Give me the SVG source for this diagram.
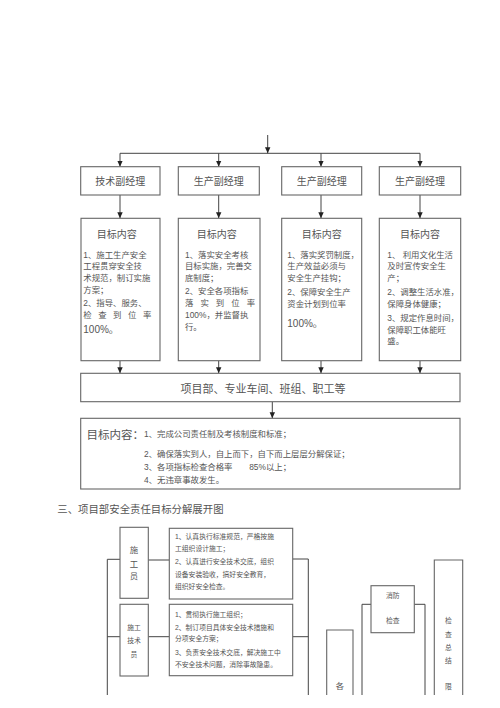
<svg xmlns="http://www.w3.org/2000/svg" width="500" height="708" viewBox="0 0 500 708">
<defs>
<marker id="ah" markerWidth="6" markerHeight="6" refX="6" refY="3" orient="auto" markerUnits="userSpaceOnUse" viewBox="0 0 6 6">
<path d="M0,0.3 L6,3 L0,5.7 Z" fill="#222"/>
</marker>
<style>
.box{fill:#fff;stroke:#666;stroke-width:1.1}
.ln{fill:none;stroke:#444;stroke-width:1}
.t{font-family:"Liberation Sans","Noto Sans CJK SC",sans-serif;fill:#555}
.s{font-size:8.4px}
.xs{font-size:6.8px}
.c{text-anchor:middle}
</style>
</defs>
<rect width="500" height="708" fill="#fff"/>

<g id="connectors">
<line class="ln" x1="267.7" y1="135" x2="267.7" y2="153.3" marker-end="url(#ah)"/>
<line class="ln" x1="120" y1="153.3" x2="420" y2="153.3"/>
<line class="ln" x1="120" y1="153.3" x2="120" y2="166.7" marker-end="url(#ah)"/>
<line class="ln" x1="218.7" y1="153.3" x2="218.7" y2="166.7" marker-end="url(#ah)"/>
<line class="ln" x1="321" y1="153.3" x2="321" y2="166.7" marker-end="url(#ah)"/>
<line class="ln" x1="420" y1="153.3" x2="420" y2="166.7" marker-end="url(#ah)"/>
<line class="ln" x1="120" y1="195" x2="120" y2="218.3" marker-end="url(#ah)"/>
<line class="ln" x1="218.7" y1="195" x2="218.7" y2="218.3" marker-end="url(#ah)"/>
<line class="ln" x1="321" y1="195" x2="321" y2="218.3" marker-end="url(#ah)"/>
<line class="ln" x1="420" y1="195" x2="420" y2="218.3" marker-end="url(#ah)"/>
<line class="ln" x1="120" y1="360.7" x2="120" y2="373.3" marker-end="url(#ah)"/>
<line class="ln" x1="218.7" y1="360.7" x2="218.7" y2="373.3" marker-end="url(#ah)"/>
<line class="ln" x1="321" y1="360.7" x2="321" y2="373.3" marker-end="url(#ah)"/>
<line class="ln" x1="420" y1="360.7" x2="420" y2="373.3" marker-end="url(#ah)"/>
<line class="ln" x1="272.3" y1="401.7" x2="272.3" y2="418.3" marker-end="url(#ah)"/>
<!-- lower section -->
<polyline class="ln" points="120,559.3 107.3,559.3 107.3,695"/>
<line class="ln" x1="107.3" y1="636.7" x2="120" y2="636.7"/>
<line class="ln" x1="148.3" y1="560" x2="169.3" y2="560"/>
<line class="ln" x1="148.3" y1="636.7" x2="169.3" y2="636.7"/>
<polyline class="ln" points="292.7,559 308.3,559 308.3,695"/>
<line class="ln" x1="292.7" y1="636.7" x2="308.3" y2="636.7"/>
<polyline class="ln" points="371,604.3 362,604.3 362,695"/>
<polyline class="ln" points="414.3,604.3 425,604.3 425,695"/>
</g>

<g id="n_tech">
<rect class="box" x="80.7" y="166.7" width="79.3" height="28.3"/>
<text class="t c" x="120.3" y="185" font-size="10">技术副经理</text>
</g>
<g id="n_prod1">
<rect class="box" x="178.3" y="166.7" width="81" height="28.3"/>
<text class="t c" x="218.8" y="185" font-size="10">生产副经理</text>
</g>
<g id="n_prod2">
<rect class="box" x="281.7" y="166.7" width="80" height="28.3"/>
<text class="t c" x="321.7" y="185" font-size="10">生产副经理</text>
</g>
<g id="n_prod3">
<rect class="box" x="379.3" y="166.7" width="81.4" height="28.3"/>
<text class="t c" x="420" y="185" font-size="10">生产副经理</text>
</g>

<g id="n_goal1">
<rect class="box" x="81" y="218.3" width="79" height="142.4"/>
<text class="t c" x="116.7" y="238" font-size="10">目标内容</text>
<text class="t s" x="83.3" y="257.7">1、施工生产安全</text>
<text class="t s" x="83.3" y="269.3">工程贯穿安全技</text>
<text class="t s" x="83.3" y="281">术规范，制订实施</text>
<text class="t s" x="83.3" y="292.7">方案；</text>
<text class="t s" x="83.3" y="306">2、指导、服务、</text>
<text class="t s" x="83.3" y="317.7" textLength="68" lengthAdjust="spacing">检查到位率</text>
<text class="t" x="83.3" y="333" font-size="10">100%。</text>
</g>
<g id="n_goal2">
<rect class="box" x="178.3" y="218.3" width="81.7" height="142.4"/>
<text class="t c" x="216.7" y="238" font-size="10">目标内容</text>
<text class="t s" x="185" y="257.7">1、落实安全考核</text>
<text class="t s" x="185" y="269.3">目标实施，完善交</text>
<text class="t s" x="185" y="281">底制度；</text>
<text class="t s" x="185" y="294">2、安全各项指标</text>
<text class="t s" x="185" y="305.7" textLength="70" lengthAdjust="spacing">落实到位率</text>
<text class="t s" x="185" y="318">100%，并监督执</text>
<text class="t s" x="185" y="330">行。</text>
</g>
<g id="n_goal3">
<rect class="box" x="281.7" y="218.3" width="80" height="142.4"/>
<text class="t c" x="321.7" y="238" font-size="10">目标内容</text>
<text class="t s" x="287.3" y="257.7">1、落实奖罚制度，</text>
<text class="t s" x="287.3" y="269.3">生产效益必须与</text>
<text class="t s" x="287.3" y="281">安全生产挂钩；</text>
<text class="t s" x="287.3" y="295">2、保障安全生产</text>
<text class="t s" x="287.3" y="306.7">资金计划到位率</text>
<text class="t" x="287.3" y="327" font-size="10">100%。</text>
</g>
<g id="n_goal4">
<rect class="box" x="379.3" y="218.3" width="81.4" height="142.4"/>
<text class="t c" x="420" y="238" font-size="10">目标内容</text>
<text class="t s" x="387.3" y="257.7">1、 利用文化生活</text>
<text class="t s" x="387.3" y="269.3">及时宣传安全生</text>
<text class="t s" x="387.3" y="281">产；</text>
<text class="t s" x="387.3" y="295">2、调整生活水准，</text>
<text class="t s" x="387.3" y="306.7">保障身体健康；</text>
<text class="t s" x="387.3" y="321">3、规定作息时间，</text>
<text class="t s" x="387.3" y="332.7">保障职工体能旺</text>
<text class="t s" x="387.3" y="344.3">盛。</text>
</g>

<g id="n_dept">
<rect class="box" x="80.7" y="373.3" width="379.3" height="28.4"/>
<text class="t c" x="263" y="392.5" font-size="11">项目部、专业车间、班组、职工等</text>
</g>

<g id="n_target">
<rect class="box" x="80.7" y="418.3" width="379.3" height="70.7"/>
<text class="t" x="86.5" y="439" font-size="11.5">目标内容：</text>
<text class="t s" x="144" y="437">1、完成公司责任制及考核制度和标准；</text>
<text class="t s" x="144" y="457">2、确保落实到人，自上而下，自下而上层层分解保证；</text>
<text class="t s" x="144" y="470">3、各项指标检查合格率　　85%以上；</text>
<text class="t s" x="144" y="483">4、无违章事故发生。</text>
</g>

<text class="t" x="57.3" y="513.3" font-size="10.4">三、项目部安全责任目标分解展开图</text>

<g id="n_worker">
<rect class="box" x="120" y="527.3" width="28.3" height="71"/>
<text class="t c s" x="134" y="553.3">施</text>
<text class="t c s" x="134" y="566.7">工</text>
<text class="t c s" x="134" y="579">员</text>
</g>
<g id="n_worker_duty">
<rect class="box" x="169.3" y="528.3" width="123.4" height="70.7"/>
<text class="t xs" x="175" y="539">1、认真执行标准规范，严格按施</text>
<text class="t xs" x="175" y="551">工组织设计施工；</text>
<text class="t xs" x="175" y="564.3">2、认真进行安全技术交底，组织</text>
<text class="t xs" x="175" y="576.7">设备安装验收，搞好安全教育，</text>
<text class="t xs" x="175" y="589.3">组织好安全检查。</text>
</g>
<g id="n_tech_worker">
<rect class="box" x="120" y="604.3" width="28.3" height="71.7"/>
<text class="t c xs" x="134" y="630">施工</text>
<text class="t c xs" x="134" y="643.3">技术</text>
<text class="t c xs" x="134" y="656.7">员</text>
</g>
<g id="n_tech_duty">
<rect class="box" x="169.3" y="604.3" width="123.4" height="71.4"/>
<text class="t xs" x="175" y="617.3">1、贯彻执行施工组织；</text>
<text class="t xs" x="175" y="630">2、制订项目具体安全技术措施和</text>
<text class="t xs" x="175" y="641">分项安全方案；</text>
<text class="t xs" x="175" y="655">3、负责安全技术交底，解决施工中</text>
<text class="t xs" x="175" y="666.7">不安全技术问题，消除事故隐患。</text>
</g>
<g id="n_each">
<polyline class="box" points="326.7,695 326.7,630 353,630 353,695" fill="none"/>
<text class="t c s" x="340" y="689">各</text>
</g>
<g id="n_fire">
<rect class="box" x="371" y="585.7" width="43.3" height="47"/>
<text class="t c xs" x="392.7" y="598">消防</text>
<text class="t c xs" x="392.7" y="622.7">检查</text>
</g>
<g id="n_summary">
<polyline class="box" points="434.3,695 434.3,560 462.7,560 462.7,695" fill="none"/>
<text class="t c xs" x="448.5" y="623">检</text>
<text class="t c xs" x="448.5" y="637">查</text>
<text class="t c xs" x="448.5" y="650">总</text>
<text class="t c xs" x="448.5" y="663">结</text>
<text class="t c xs" x="448.5" y="688.5">限</text>
</g>
</svg>
